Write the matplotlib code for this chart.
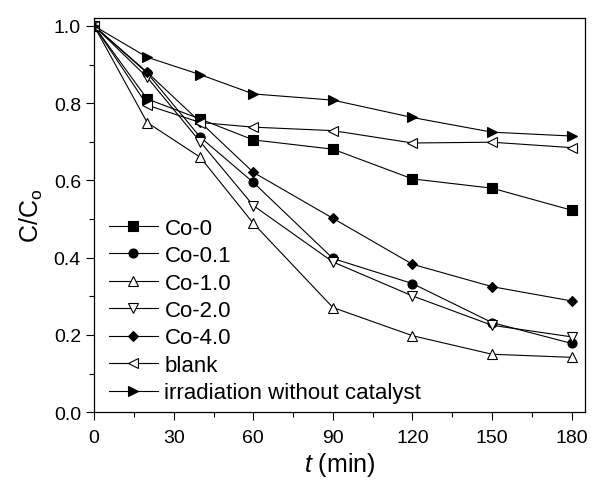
import matplotlib
matplotlib.use("Agg")
import matplotlib.pyplot as plt
from matplotlib.ticker import MultipleLocator

plt.rcParams['font.family'] = ['Liberation Sans', 'DejaVu Sans']
plt.rcParams['mathtext.fontset'] = 'custom'
plt.rcParams['mathtext.rm'] = 'Liberation Sans'
plt.rcParams['mathtext.it'] = 'Liberation Sans:italic'

# data
t = [0, 20, 40, 60, 90, 120, 150, 180]
co_0 = [1.0, 0.811, 0.759, 0.705, 0.681, 0.604, 0.580, 0.523]
co_01 = [1.0, 0.878, 0.712, 0.595, 0.398, 0.333, 0.232, 0.178]
co_10 = [1.0, 0.750, 0.660, 0.489, 0.271, 0.198, 0.150, 0.142]
co_20 = [1.0, 0.867, 0.700, 0.535, 0.389, 0.301, 0.225, 0.195]
co_40 = [1.0, 0.880, 0.751, 0.621, 0.502, 0.383, 0.325, 0.288]
blank = [1.0, 0.795, 0.750, 0.738, 0.729, 0.697, 0.699, 0.685]
irr = [1.0, 0.919, 0.874, 0.824, 0.808, 0.763, 0.725, 0.715]

series = [
    ("Co-0", co_0, 's', 'k'),
    ("Co-0.1", co_01, 'o', 'k'),
    ("Co-1.0", co_10, '^', 'w'),
    ("Co-2.0", co_20, 'v', 'w'),
    ("Co-4.0", co_40, 'D', 'k'),
    ("blank", blank, '<', 'w'),
    ("irradiation without catalyst", irr, '>', 'k'),
]

fig = plt.figure(figsize=(5.92, 4.81), dpi=100)
ax = fig.add_axes([0.159, 0.141, 0.829, 0.819])

for name, vals, mk, fc in series:
    ms = 5.5 if mk == 'D' else 6.5
    ax.plot(t, vals, color='k', lw=0.8, marker=mk, markersize=ms,
            markerfacecolor=fc, markeredgecolor='k', markeredgewidth=0.8,
            label=name)

ax.set_xlim(0, 185)
ax.set_ylim(0, 1.02)
ax.xaxis.set_major_locator(MultipleLocator(30))
ax.xaxis.set_minor_locator(MultipleLocator(15))
ax.yaxis.set_major_locator(MultipleLocator(0.2))
ax.yaxis.set_minor_locator(MultipleLocator(0.1))
ax.yaxis.set_major_formatter(matplotlib.ticker.FormatStrFormatter('%.1f'))
ax.tick_params(which='major', direction='out', length=6, width=0.8, labelsize=14)
ax.tick_params(axis='x', which='major', pad=6)
ax.tick_params(axis='y', which='major', pad=3.5)
ax.tick_params(which='minor', direction='out', length=3.5, width=0.8)
for s in ax.spines.values():
    s.set_linewidth(0.9)

ax.set_xlabel("$t$ (min)", fontsize=18, labelpad=3)
ax.set_ylabel("C/C$_\\mathrm{o}$", fontsize=18, labelpad=6)

ax.legend(loc='lower left', frameon=False, fontsize=16, handlelength=2.2,
          handletextpad=0.3, labelspacing=0.29, borderaxespad=0,
          bbox_to_anchor=(0.012, 0.0))

fig.savefig("out.png", dpi=100)
